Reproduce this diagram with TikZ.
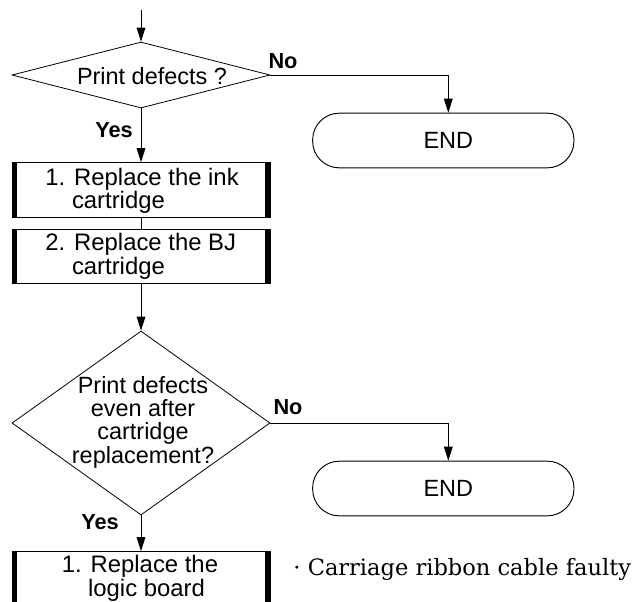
\documentclass[tikz,border=0pt]{standalone}
\usepackage{fontspec}
\setmainfont{Liberation Sans}
\newfontfamily\notefont{DejaVu Serif}
\usetikzlibrary{shapes.geometric,arrows.meta}
\begin{document}
\begin{tikzpicture}[x=0.75pt,y=-0.75pt,
  line width=0.7pt,
  arr/.style={-{Triangle[length=10.5pt,width=6.5pt]}},
  txt/.style={font=\fontsize{17.9}{16.5}\selectfont, inner sep=0pt},
  dtxt/.style={font=\fontsize{17.6}{17.5}\selectfont, inner sep=0pt},
  lbl/.style={font=\bfseries\fontsize{16.3}{18}\selectfont, inner sep=0pt},
  dec/.style={diamond, draw, line width=0.6pt, inner sep=0pt, minimum width=193.5pt},
  stepbox/.style={draw, rectangle, minimum width=193.5pt, minimum height=41pt, inner sep=0pt,
    path picture={\fill[black] (path picture bounding box.north west) rectangle ([xshift=3.75pt]path picture bounding box.south west);
                  \fill[black] (path picture bounding box.north east) rectangle ([xshift=-3.75pt]path picture bounding box.south east);}},
  endbox/.style={draw, rectangle, rounded corners=20pt, minimum width=196pt, minimum height=41pt, inner sep=0pt, font=\fontsize{17.6}{20}\selectfont}
]
\useasboundingbox (0,0) rectangle (635,601);
\clip (0,0) rectangle (635,601);

\coordinate (start) at (141,10);
\node[dec, minimum height=49.5pt] (d1) at (141,75) {};
\node[dtxt] (d1t) at (152,76.5) {Print defects ?};
\node[endbox] (e1) at (443.3,140.5) {\hspace*{7.5pt}END};
\node[stepbox] (b1) at (141,190) {};
\node[txt, anchor=west, align=left] (b1t) at (45,191) {1. Replace the ink\\\phantom{1.\ }cartridge};
\node[stepbox] (b2) at (141,256.5) {};
\node[txt, anchor=west, align=left] (b2t) at (45,256.5) {2. Replace the BJ\\\phantom{2.\ }cartridge};
\node[dec, minimum height=138pt] (d2) at (141,423) {};
\node[dtxt, align=center] (d2t) at (143,422) {Print defects\\even after\\cartridge\\replacement?};
\node[endbox] (e2) at (443.3,488.5) {\hspace*{7.5pt}END};
\node[stepbox] (b3) at (141,579) {};
\node[txt, align=center, font=\fontsize{17.9}{15.8}\selectfont] (b3t) at (140,578.5) {1. Replace the\\\hspace*{9.75pt}logic board};
\node[anchor=base west, inner sep=0pt, font=\notefont\fontsize{16.9}{18}\selectfont] (note) at (293,575) {· Carriage ribbon cable faulty};

\node[lbl] (y1) at (114,130) {Yes};
\node[lbl] (n1) at (283,61) {No};
\node[lbl] (y2) at (100,522) {Yes};
\node[lbl] (n2) at (288,407) {No};

\draw[arr] (start) -- (d1.north);
\draw[arr] (d1.east) -| ([xshift=3.75pt]e1.north);
\draw[arr] (d1.south) -- (b1.north);
\draw (b1.south) -- (b2.north);
\draw[arr] (b2.south) -- (d2.north);
\draw[arr] (d2.east) -| ([xshift=3.75pt]e2.north);
\draw[arr] (d2.south) -- (b3.north);
\end{tikzpicture}
\end{document}
